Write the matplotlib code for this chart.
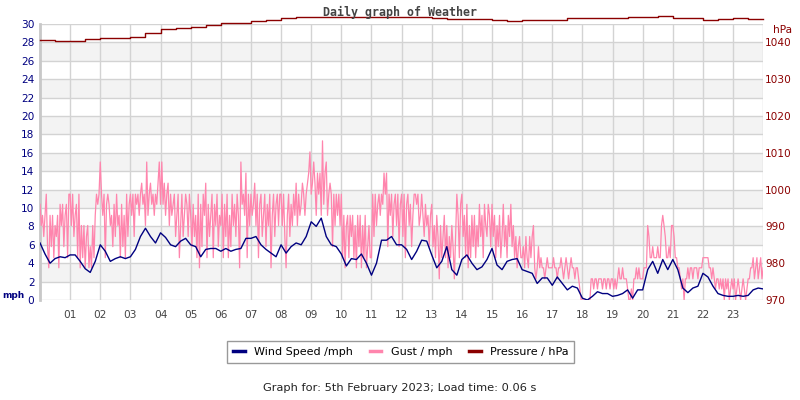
import numpy as np
import matplotlib
matplotlib.use("Agg")
import matplotlib.pyplot as plt
from matplotlib.lines import Line2D

# wind speed, mph, every 10 minutes from 00:00 to 24:00
wind = [
    6.2, 5.0, 4.0, 4.5, 4.7, 4.6,
    4.9, 4.9, 4.2, 3.4, 3.0, 4.2,
    6.0, 5.3, 4.2, 4.5, 4.7, 4.5,
    4.7, 5.5, 6.9, 7.8, 6.9, 6.2,
    7.3, 6.8, 6.0, 5.8, 6.4, 6.7,
    6.0, 5.8, 4.7, 5.5, 5.6, 5.6,
    5.3, 5.6, 5.3, 5.5, 5.6, 6.7,
    6.7, 6.9, 6.0, 5.5, 5.1, 4.7,
    6.0, 5.1, 5.8, 6.2, 6.0, 6.9,
    8.5, 8.0, 8.9, 6.9, 6.0, 5.8,
    5.0, 3.7, 4.5, 4.4, 5.0, 4.0,
    2.7, 4.0, 6.5, 6.5, 6.9, 6.0,
    6.0, 5.5, 4.4, 5.3, 6.5, 6.4,
    4.9, 3.5, 4.2, 5.8, 3.3, 2.7,
    4.4, 4.9, 4.0, 3.3, 3.6, 4.4,
    5.6, 3.8, 3.3, 4.2, 4.4, 4.5,
    3.3, 3.1, 2.9, 1.8, 2.4, 2.4,
    1.6, 2.5, 1.8, 1.1, 1.5, 1.3,
    0.2, 0.0, 0.4, 0.9, 0.7, 0.7,
    0.4, 0.5, 0.7, 1.1, 0.2, 1.1,
    1.1, 3.3, 4.2, 2.9, 4.4, 3.3,
    4.4, 3.3, 1.3, 0.8, 1.3, 1.5,
    2.9, 2.5, 1.5, 0.7, 0.5, 0.4,
    0.4, 0.5, 0.4, 0.5, 1.1, 1.3,
    1.2,
]

# gust, mph, every 2.5 minutes (one hour per pair of rows)
gust = [
    10.4, 8.1, 9.2, 6.9, 9.2, 11.5, 5.8, 3.5, 9.2, 5.8, 9.2, 4.6,
    8.1, 6.9, 9.2, 3.5, 10.4, 8.1, 10.4, 5.8, 9.2, 10.4, 4.6, 11.5,
    11.5, 8.1, 11.5, 6.9, 9.2, 10.4, 4.6, 11.5, 3.5, 8.1, 4.6, 8.1,
    3.5, 6.9, 8.1, 3.5, 5.8, 3.5, 8.1, 4.6, 9.2, 11.5, 10.4, 11.5,
    15.0, 11.5, 9.2, 11.5, 4.6, 10.4, 11.5, 10.4, 8.1, 9.2, 5.8, 10.4,
    6.9, 11.5, 8.1, 9.2, 4.6, 10.4, 5.8, 9.2, 4.6, 11.5, 6.9, 10.4,
    11.5, 9.2, 11.5, 6.9, 11.5, 10.4, 11.5, 9.2, 11.5, 12.7, 10.4, 11.5,
    8.1, 15.0, 9.2, 11.5, 12.7, 10.4, 11.5, 9.2, 11.5, 10.4, 12.7, 15.0,
    10.4, 15.0, 10.4, 12.7, 9.2, 11.5, 12.7, 8.1, 11.5, 9.2, 10.4, 11.5,
    6.9, 9.2, 11.5, 4.6, 8.1, 11.5, 6.9, 9.2, 11.5, 10.4, 6.9, 11.5,
    9.2, 5.8, 10.4, 6.9, 9.2, 4.6, 11.5, 3.5, 10.4, 5.8, 11.5, 9.2,
    12.7, 4.6, 10.4, 6.9, 9.2, 11.5, 4.6, 10.4, 8.1, 11.5, 5.8, 9.2,
    8.1, 11.5, 4.6, 10.4, 6.9, 11.5, 4.6, 9.2, 5.8, 11.5, 8.1, 10.4,
    6.9, 11.5, 9.2, 3.5, 15.0, 10.4, 11.5, 9.2, 13.8, 4.6, 11.5, 8.1,
    11.5, 9.2, 10.4, 12.7, 8.1, 11.5, 4.6, 10.4, 11.5, 6.9, 9.2, 11.5,
    5.8, 10.4, 8.1, 11.5, 3.5, 9.2, 11.5, 6.9, 10.4, 11.5, 8.1, 11.5,
    11.5, 8.1, 11.5, 6.9, 3.5, 9.2, 11.5, 6.9, 10.4, 8.1, 11.5, 9.2,
    12.7, 8.1, 11.5, 9.2, 10.4, 12.7, 11.5, 9.2, 11.5, 12.7, 13.8, 16.1,
    11.5, 12.7, 15.0, 12.7, 9.2, 13.8, 11.5, 13.8, 9.2, 17.3, 10.4, 13.8,
    15.0, 9.2, 11.5, 12.7, 11.5, 5.8, 11.5, 8.1, 11.5, 9.2, 11.5, 8.1,
    11.5, 4.6, 9.2, 3.5, 8.1, 9.2, 4.6, 9.2, 6.9, 9.2, 4.6, 8.1,
    3.5, 9.2, 5.8, 9.2, 3.5, 8.1, 4.6, 9.2, 3.5, 5.8, 8.1, 4.6,
    4.6, 11.5, 6.9, 11.5, 8.1, 10.4, 11.5, 9.2, 11.5, 10.4, 13.8, 11.5,
    13.8, 5.8, 11.5, 9.2, 11.5, 6.9, 10.4, 11.5, 8.1, 11.5, 5.8, 10.4,
    11.5, 6.9, 11.5, 4.6, 10.4, 11.5, 8.1, 10.4, 5.8, 9.2, 11.5, 11.5,
    10.4, 11.5, 8.1, 9.2, 11.5, 9.2, 6.9, 10.4, 8.1, 9.2, 5.8, 9.2,
    10.4, 5.8, 8.1, 4.6, 9.2, 6.9, 2.3, 8.1, 4.6, 6.9, 9.2, 4.6,
    8.1, 3.5, 6.9, 4.6, 8.1, 5.8, 2.3, 6.9, 11.5, 9.2, 4.6, 10.4,
    11.5, 6.9, 9.2, 4.6, 10.4, 3.5, 8.1, 4.6, 9.2, 5.8, 9.2, 4.6,
    8.1, 5.8, 10.4, 6.9, 9.2, 4.6, 10.4, 8.1, 6.9, 10.4, 9.2, 5.8,
    10.4, 6.9, 9.2, 4.6, 8.1, 5.8, 9.2, 4.6, 6.9, 10.4, 5.8, 8.1,
    4.6, 9.2, 6.9, 10.4, 5.8, 8.1, 4.6, 6.9, 3.5, 5.8, 6.9, 4.6,
    4.6, 5.8, 3.5, 6.9, 4.6, 3.5, 6.9, 4.6, 6.9, 8.1, 3.5, 2.3,
    3.5, 5.8, 3.5, 4.6, 3.5, 3.5, 2.3, 3.5, 4.6, 3.5, 3.5, 3.5,
    3.5, 4.6, 3.5, 3.5, 2.3, 3.5, 3.5, 4.6, 3.5, 2.3, 3.5, 4.6,
    3.5, 2.3, 3.5, 4.6, 3.5, 3.5, 2.3, 3.5, 3.5, 2.3, 1.2, 0.0,
    0.0, 0.0, 0.0, 0.0, 0.0, 0.0, 0.0, 2.3, 2.3, 1.2, 2.3, 2.3,
    1.2, 2.3, 2.3, 2.3, 1.2, 2.3, 2.3, 1.2, 2.3, 2.3, 1.2, 2.3,
    2.3, 1.2, 2.3, 1.2, 2.3, 3.5, 2.3, 2.3, 3.5, 2.3, 2.3, 2.3,
    1.2, 0.0, 0.0, 1.2, 0.0, 2.3, 2.3, 3.5, 2.3, 3.5, 2.3, 2.3,
    2.3, 3.5, 3.5, 3.5, 8.1, 6.9, 4.6, 4.6, 5.8, 4.6, 4.6, 4.6,
    5.8, 4.6, 4.6, 8.1, 9.2, 8.1, 6.9, 4.6, 4.6, 5.8, 4.6, 8.1,
    8.1, 6.9, 4.6, 4.6, 3.5, 3.5, 2.3, 1.2, 2.3, 0.0, 2.3, 2.3,
    3.5, 2.3, 3.5, 3.5, 2.3, 3.5, 3.5, 3.5, 2.3, 3.5, 3.5, 3.5,
    4.6, 4.6, 4.6, 4.6, 4.6, 3.5, 3.5, 2.3, 3.5, 2.3, 1.2, 2.3,
    2.3, 1.2, 2.3, 1.2, 2.3, 0.0, 2.3, 1.2, 2.3, 0.0, 1.2, 2.3,
    1.2, 2.3, 0.0, 1.2, 2.3, 1.2, 0.0, 1.2, 2.3, 1.2, 0.0, 1.2,
    2.3, 2.3, 3.5, 3.5, 4.6, 2.3, 3.5, 4.6, 2.3, 3.5, 4.6, 2.3,
    3.5,
]

# pressure, hPa, every 30 minutes
pressure = [
    1040.6, 1040.5, 1040.5, 1041.0, 1041.2, 1041.3, 1041.5, 1042.5,
    1043.6, 1043.9, 1044.3, 1044.6, 1045.2, 1045.3, 1045.8, 1046.0,
    1046.7, 1046.8, 1046.8, 1046.9, 1046.9, 1046.9, 1046.9, 1046.9,
    1046.9, 1046.8, 1046.6, 1046.4, 1046.4, 1046.3, 1046.2, 1045.8,
    1046.2, 1046.0, 1046.1, 1046.6, 1046.6, 1046.6, 1046.7, 1046.8,
    1047.0, 1047.1, 1046.6, 1046.5, 1046.2, 1046.3, 1046.5, 1046.4,
    1046.4,
]

hour_labels = ["%02d" % h for h in range(1, 24)]
mph_ticks = list(range(0, 31, 2))
hpa_ticks = list(range(970, 1041, 10))

navy = "#000080"
pink = "#ff85ad"
dred = "#8b0000"

fig = plt.figure(figsize=(8, 4), dpi=100)
ax = fig.add_axes([0.05, 0.25, 0.904, 0.69])

# banded background
for lo in range(2, 30, 4):
    ax.axhspan(lo, lo + 2, color="#f3f3f3", lw=0, zorder=0)
for y in mph_ticks:
    ax.axhline(y, color="#d3d3d3", lw=1, zorder=1)
for h in range(1, 25):
    ax.axvline(h, color="#d3d3d3", lw=1, zorder=1)

t_gust = np.linspace(0, 24, len(gust))
t_wind = np.linspace(0, 24, len(wind))
t_pres = np.linspace(0, 24, len(pressure))

ax.plot(t_gust, gust, color=pink, lw=0.9, zorder=3)
ax.plot(t_wind, wind, color=navy, lw=1, zorder=4)

ax.set_xlim(0, 24)
ax.set_ylim(0, 30)
ax.set_xticks(range(1, 24))
ax.set_xticklabels(hour_labels, color="#444444", fontsize=7.6)
ax.set_yticks(mph_ticks)
ax.set_yticklabels([str(v) for v in mph_ticks], color=navy, fontsize=7.6)
ax.tick_params(axis="y", length=0, pad=4)
ax.tick_params(axis="x", length=0, pad=7)
for s in ["top", "right", "bottom"]:
    ax.spines[s].set_visible(False)
ax.spines["left"].set_color("#c8c8c8")
ax.spines["left"].set_linewidth(2)

ax2 = ax.twinx()
ax2.set_ylim(970, 1045)
ax2.set_yticks(hpa_ticks)
ax2.set_yticklabels([str(v) for v in hpa_ticks], color=dred, fontsize=7.6)
ax2.tick_params(length=0, pad=1.5)
for s in ax2.spines.values():
    s.set_visible(False)
ax2.plot(t_pres, pressure, color=dred, lw=1, drawstyle="steps-post", clip_on=False, zorder=5)

fig.text(0.5, 0.97, "Daily graph of Weather", ha="center", va="center",
         family="DejaVu Sans Mono", weight="bold", fontsize=8.4, color="#444444")
fig.text(0.003, 0.262, "mph", ha="left", va="center", weight="bold", fontsize=6.5, color=navy)
fig.text(0.966, 0.925, "hPa", ha="left", va="center", fontsize=7.6, color=dred)

handles = [Line2D([], [], color=navy, lw=2.5),
           Line2D([], [], color=pink, lw=2.5),
           Line2D([], [], color=dred, lw=2.5)]
leg = fig.legend(handles, ["Wind Speed /mph", "Gust / mph", "Pressure / hPa"],
                 loc="center", bbox_to_anchor=(0.501, 0.12), ncol=3, fontsize=8,
                 frameon=True, fancybox=False, handlelength=1.05, columnspacing=1.5,
                 borderpad=0.5, handletextpad=0.85)
leg.get_frame().set_edgecolor("#808080")
leg.get_frame().set_linewidth(1)

fig.text(0.5, 0.03, "Graph for: 5th February 2023; Load time: 0.06 s",
         ha="center", va="center", fontsize=8.2, color="#222222")

fig.savefig("out.png", dpi=100)
